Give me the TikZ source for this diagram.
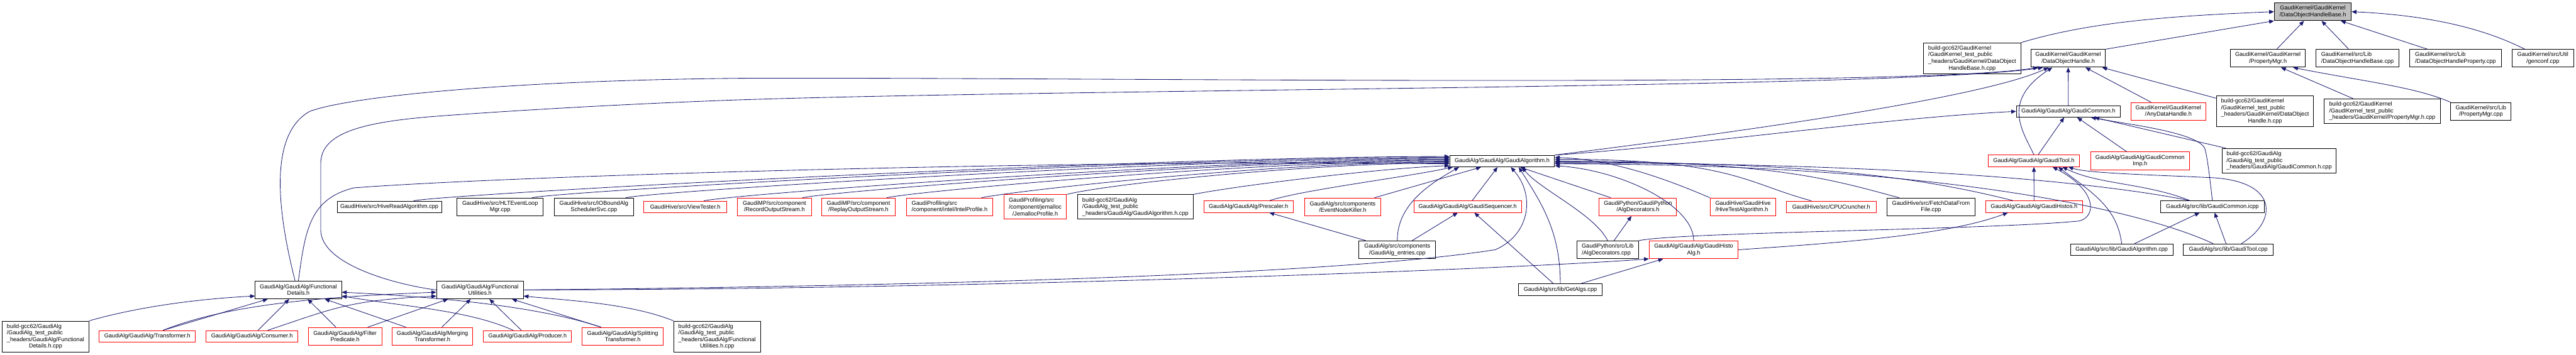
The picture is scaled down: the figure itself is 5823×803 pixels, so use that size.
\documentclass[tikz,border=0pt]{standalone}
\usepackage{fontspec}
\usepackage{calc}
\setmainfont{Liberation Sans}
\usetikzlibrary{arrows.meta}
\definecolor{edgeblue}{HTML}{191970}
\definecolor{truncred}{HTML}{FF0000}
\definecolor{rootgray}{HTML}{BFBFBF}

\begin{document}
\begin{tikzpicture}[
  x=0.5pt, y=-0.5pt,
  every node/.style={draw, fill=white, align=center, inner sep=0pt, line width=0.7pt, font=\fontsize{6.5}{7.5}\selectfont},
  one/.style={minimum height=13pt},
  two/.style={minimum height=20pt},
  three/.style={minimum height=27.5pt},
  four/.style={minimum height=35pt},
  flush/.style={align=left},
  trunc/.style={draw=truncred},
  root/.style={fill=rootgray},
  arrow/.style={draw=edgeblue, line width=0.6pt, -{Triangle[length=5.5pt,width=4.5pt]}}
]
\useasboundingbox (0,0) rectangle (5823,803);

\node[two, root, minimum width=87pt] (base) at (5228,26.5) {GaudiKernel/GaudiKernel\\/DataObjectHandleBase.h};

\node[four, flush, minimum width=110pt] (bbase) at (4458,132) {build-gcc62/GaudiKernel\\/GaudiKernel\_test\_public\\\_headers/GaudiKernel/DataObject\\\makebox[\widthof{\_headers/GaudiKernel/DataObject}]{HandleBase.h.cpp}};
\node[two, minimum width=84pt] (handle) at (4675,132) {GaudiKernel/GaudiKernel\\/DataObjectHandle.h};
\node[two, minimum width=84.5pt] (propmgr) at (5126.5,132) {GaudiKernel/GaudiKernel\\/PropertyMgr.h};
\node[two, flush, minimum width=94pt] (basecpp) at (5329,132) {GaudiKernel/src/Lib\\/DataObjectHandleBase.cpp};
\node[two, flush, minimum width=103.5pt] (propcpp) at (5550.5,132) {GaudiKernel/src/Lib\\/DataObjectHandleProperty.cpp};
\node[two, minimum width=70pt] (genconf) at (5748,132) {GaudiKernel/src/Util\\/genconf.cpp};

\node[one, minimum width=117.5pt] (common) at (4675.5,252) {GaudiAlg/GaudiAlg/GaudiCommon.h};
\node[two, trunc, minimum width=84.5pt] (anydata) at (4901.5,252) {GaudiKernel/GaudiKernel\\/AnyDataHandle.h};
\node[four, flush, minimum width=110pt] (bhandle) at (5120,252) {build-gcc62/GaudiKernel\\/GaudiKernel\_test\_public\\\_headers/GaudiKernel/DataObject\\\makebox[\widthof{\_headers/GaudiKernel/DataObject}]{Handle.h.cpp}};
\node[three, flush, minimum width=131pt] (bpropmgr) at (5385,251.5) {build-gcc62/GaudiKernel\\/GaudiKernel\_test\_public\\\_headers/GaudiKernel/PropertyMgr.h.cpp};
\node[two, minimum width=68pt] (pmgrcpp) at (5608,252) {GaudiKernel/src/Lib\\/PropertyMgr.cpp};

\node[one, minimum width=118.5pt] (algo) at (3395.5,364.5) {GaudiAlg/GaudiAlg/GaudiAlgorithm.h};
\node[one, trunc, minimum width=102.5pt] (tool) at (4597.5,364) {GaudiAlg/GaudiAlg/GaudiTool.h};
\node[two, trunc, minimum width=111.5pt] (commonimp) at (4837.5,364) {GaudiAlg/GaudiAlg/GaudiCommon\\Imp.h};
\node[three, flush, minimum width=129pt] (bcommon) at (5152,363.5) {build-gcc62/GaudiAlg\\/GaudiAlg\_test\_public\\\_headers/GaudiAlg/GaudiCommon.h.cpp};

\node[one, minimum width=118pt] (hiveread) at (880,468) {GaudiHive/src/HiveReadAlgorithm.cpp};
\node[two, minimum width=97.5pt] (hltloop) at (1130.5,468) {GaudiHive/src/HLTEventLoop\\Mgr.cpp};
\node[two, minimum width=89.5pt] (iobound) at (1342.5,468) {GaudiHive/src/IOBoundAlg\\SchedulerSvc.cpp};
\node[one, trunc, minimum width=94pt] (viewtester) at (1549,468) {GaudiHive/src/ViewTester.h};
\node[two, trunc, minimum width=83.5pt] (recordout) at (1750.5,468) {GaudiMP/src/component\\/RecordOutputStream.h};
\node[two, trunc, minimum width=83.5pt] (replayout) at (1940.5,468) {GaudiMP/src/component\\/ReplayOutputStream.h};
\node[two, trunc, flush, minimum width=97.5pt] (intelprof) at (2146.5,468) {GaudiProfiling/src\\/component/intel/IntelProfile.h};
\node[three, trunc, flush, minimum width=71pt] (jemalloc) at (2340,468) {GaudiProfiling/src\\/component/jemalloc\\\makebox[\widthof{/component/jemalloc}]{/JemallocProfile.h}};
\node[three, flush, minimum width=130.5pt] (balgo) at (2566.5,468) {build-gcc62/GaudiAlg\\/GaudiAlg\_test\_public\\\_headers/GaudiAlg/GaudiAlgorithm.h.cpp};
\node[one, trunc, minimum width=101pt] (prescaler) at (2822,467.5) {GaudiAlg/GaudiAlg/Prescaler.h};
\node[two, trunc, minimum width=86pt] (nodekiller) at (3035,468) {GaudiAlg/src/components\\/EventNodeKiller.h};
\node[one, trunc, minimum width=121.5pt] (sequencer) at (3317.5,467.5) {GaudiAlg/GaudiAlg/GaudiSequencer.h};
\node[two, trunc, minimum width=87.5pt] (decoh) at (3702.5,468) {GaudiPython/GaudiPython\\/AlgDecorators.h};
\node[two, trunc, flush, minimum width=74pt] (hivetest) at (3940,468) {GaudiHive/GaudiHive\\/HiveTestAlgorithm.h};
\node[one, trunc, minimum width=101.5pt] (cruncher) at (4139.5,468) {GaudiHive/src/CPUCruncher.h};
\node[two, minimum width=100pt] (fetchdata) at (4365,468) {GaudiHive/src/FetchDataFrom\\File.cpp};
\node[one, trunc, minimum width=109pt] (histos) at (4598,467.5) {GaudiAlg/GaudiAlg/GaudiHistos.h};
\node[one, minimum width=117pt] (commonicpp) at (5001,467.5) {GaudiAlg/src/lib/GaudiCommon.icpp};

\node[two, minimum width=86.5pt] (entries) at (3158.5,565) {GaudiAlg/src/components\\/GaudiAlg\_entries.cpp};
\node[two, flush, minimum width=70pt] (decocpp) at (3634,565) {GaudiPython/src/Lib\\/AlgDecorators.cpp};
\node[two, trunc, minimum width=100.5pt] (histoalg) at (3828.5,565) {GaudiAlg/GaudiAlg/GaudiHisto\\Alg.h};
\node[one, minimum width=116pt] (algocpp) at (4796,565) {GaudiAlg/src/lib/GaudiAlgorithm.cpp};
\node[one, minimum width=102pt] (toolcpp) at (5037,565) {GaudiAlg/src/lib/GaudiTool.cpp};

\node[two, minimum width=97.5pt] (fdetails) at (674.5,656) {GaudiAlg/GaudiAlg/Functional\\Details.h};
\node[two, minimum width=98pt] (futils) at (1085,656) {GaudiAlg/GaudiAlg/Functional\\Utilities.h};
\node[one, minimum width=95pt] (getalgs) at (3527,655.5) {GaudiAlg/src/lib/GetAlgs.cpp};

\node[four, flush, minimum width=98pt] (bfdetails) at (103,761.5) {build-gcc62/GaudiAlg\\/GaudiAlg\_test\_public\\\_headers/GaudiAlg/Functional\\\makebox[\widthof{\_headers/GaudiAlg/Functional}]{Details.h.cpp}};
\node[one, trunc, minimum width=109pt] (transformer) at (333,761) {GaudiAlg/GaudiAlg/Transformer.h};
\node[one, trunc, minimum width=103.5pt] (consumer) at (569.5,761) {GaudiAlg/GaudiAlg/Consumer.h};
\node[two, trunc, minimum width=83pt] (filter) at (780,761) {GaudiAlg/GaudiAlg/Filter\\Predicate.h};
\node[two, trunc, minimum width=91.5pt] (merging) at (977.5,761) {GaudiAlg/GaudiAlg/Merging\\Transformer.h};
\node[one, trunc, minimum width=99.5pt] (producer) at (1192.5,761) {GaudiAlg/GaudiAlg/Producer.h};
\node[two, trunc, minimum width=91.5pt] (splitting) at (1407.5,761) {GaudiAlg/GaudiAlg/Splitting\\Transformer.h};
\node[four, flush, minimum width=98pt] (bfutils) at (1621,761.5) {build-gcc62/GaudiAlg\\/GaudiAlg\_test\_public\\\_headers/GaudiAlg/Functional\\\makebox[\widthof{\_headers/GaudiAlg/Functional}]{Utilities.h.cpp}};

\draw[arrow] (bbase.north east) .. controls +(150,-45) and +(-250,10) .. (base.west);
\draw[arrow] (handle.north east) -- (base.south west);
\draw[arrow] (propmgr) -- (base);
\draw[arrow] (basecpp) -- (base);
\draw[arrow] (propcpp) -- (base);
\draw[arrow] (genconf.153) .. controls +(-60,-30) and +(220,10) .. (base.east);

\draw[arrow] (fdetails.110) .. controls (620,450) and (615,300) .. (700,252) .. controls (800,215) and (1200,180) .. (1700,177) .. controls (2500,175) and (4300,200) .. (handle.-163);
\draw[arrow] (futils.west) .. controls (900,645) and (725,600) .. (725,520) -- (725,370) .. controls (725,300) and (820,275) .. (1000,262) .. controls (1300,240) and (1600,228) .. (1700,225) .. controls (2500,200) and (4300,200) .. (handle.-160);
\draw[arrow] (algo.north east) .. controls +(400,-50) and +(-150,70) .. (handle.-155);
\draw[arrow] (tool.north) .. controls (4575,300) and (4520,230) .. (handle.-150);
\draw[arrow] (common) -- (handle);
\draw[arrow] (anydata) -- (handle);
\draw[arrow] (bhandle) -- (handle);

\draw[arrow] (bpropmgr) -- (propmgr.-35);
\draw[arrow] (pmgrcpp.north west) .. controls +(-80,-35) and +(150,30) .. (propmgr.-20);

\draw[arrow] (algo.north east) .. controls +(300,-20) and +(-300,15) .. (common.west);
\draw[arrow] (tool) -- (common);
\draw[arrow] (commonimp) -- (common);
\draw[arrow] (bcommon) -- (common);
\draw[arrow] (commonicpp.north) .. controls (4995,400) and (4990,360) .. (4985,340) .. controls (4980,300) and (4800,280) .. (common.-15);

\draw[arrow] (hiveread.14) .. controls +(70,-15) and +(-700,0) .. (algo.175);
\draw[arrow] (hltloop.16) .. controls +(70,-15) and +(-650,0) .. (algo.176);
\draw[arrow] (iobound.16) .. controls +(70,-15) and +(-600,0) .. (algo.177);
\draw[arrow] (viewtester.18) .. controls +(70,-15) and +(-550,0) .. (algo.178);
\draw[arrow] (recordout.18) .. controls +(70,-15) and +(-500,0) .. (algo.179);
\draw[arrow] (replayout.18) .. controls +(70,-15) and +(-450,0) .. (algo.180);
\draw[arrow] (intelprof.16) .. controls +(70,-15) and +(-400,0) .. (algo.181);
\draw[arrow] (jemalloc.north east) .. controls +(100,-25) and +(-300,0) .. (algo.182);
\draw[arrow] (balgo.north east) .. controls +(100,-20) and +(-150,5) .. (algo.185);
\draw[arrow] (fdetails.north) .. controls (690,520) and (700,450) .. (800,425) .. controls (1200,395) and (2500,360) .. (algo.183);

\draw[arrow] (prescaler.16) .. controls +(80,-25) and +(-120,25) .. (algo.-173);
\draw[arrow] (nodekiller) -- (algo);
\draw[arrow] (entries.north) .. controls +(0,-80) and +(-70,40) .. (algo.-172);
\draw[arrow] (sequencer) -- (algo);
\draw[arrow] (getalgs.north) .. controls +(0,-120) and +(50,80) .. (algo.-20);
\draw[arrow] (decocpp.north) .. controls +(-30,-60) and +(40,50) .. (algo.-17);
\draw[arrow] (decoh) -- (algo);
\draw[arrow] (futils.east) .. controls (2000,648) and (3000,625) .. (3380,565) .. controls (3460,530) and (3470,440) .. (algo.-35);
\draw[arrow] (futils.east) .. controls (2200,655) and (3400,610) .. (histoalg.south west);

\draw[arrow] (hivetest.north west) .. controls +(-60,-25) and +(150,5) .. (algo.4);
\draw[arrow] (cruncher.163) .. controls +(-150,-40) and +(400,0) .. (algo.2);
\draw[arrow] (fetchdata.164) .. controls +(-150,-40) and +(500,0) .. (algo.0);
\draw[arrow] (histos.164) .. controls +(-200,-50) and +(600,0) .. (algo.-1);
\draw[arrow] (commonicpp.165) .. controls +(-200,-40) and +(800,0) .. (algo.-2);
\draw[arrow] (toolcpp.158) .. controls +(-150,-70) and +(900,0) .. (algo.-3);
\draw[arrow] (histoalg.north) .. controls +(0,-80) and +(150,10) .. (algo.-5);

\draw[arrow] (histos) -- (tool);
\draw[arrow] (algocpp.north) .. controls +(-10,-80) and +(80,60) .. (tool.-14);
\draw[arrow] (decocpp.north east) .. controls (3800,525) and (4500,520) .. (4700,500) .. controls (4740,490) and (4740,430) .. (tool.-18);
\draw[arrow] (commonicpp.165) .. controls +(-100,-40) and +(80,40) .. (tool.-12);
\draw[arrow] (toolcpp.25) .. controls (5150,500) and (5150,410) .. (5000,402) .. controls (4850,395) and (4720,392) .. (tool.-10);
\draw[arrow] (algocpp) -- (commonicpp);
\draw[arrow] (toolcpp) -- (commonicpp);

\draw[arrow] (histoalg.east) .. controls +(300,-20) and +(-120,45) .. (histos.-167);
\draw[arrow] (getalgs) -- (histoalg);
\draw[arrow] (getalgs) -- (sequencer);
\draw[arrow] (entries) -- (prescaler);
\draw[arrow] (entries) -- (sequencer);
\draw[arrow] (decocpp) -- (decoh);

\draw[arrow] (bfdetails.north east) .. controls +(130,-37) and +(-100,5) .. (fdetails.-172);
\draw[arrow] (transformer.21) -- (fdetails);
\draw[arrow] (consumer) -- (fdetails);
\draw[arrow] (filter) -- (fdetails);
\draw[arrow] (merging) -- (fdetails);
\draw[arrow] (producer.157) .. controls +(-100,-45) and +(150,25) .. (fdetails.-8);
\draw[arrow] (splitting.157) .. controls +(-150,-50) and +(200,10) .. (fdetails.-3);

\draw[arrow] (transformer.21) .. controls +(150,-60) and +(-250,10) .. (futils.-177);
\draw[arrow] (consumer.21) .. controls +(150,-50) and +(-200,10) .. (futils.-172);
\draw[arrow] (filter.22) -- (futils.-164);
\draw[arrow] (merging) -- (futils);
\draw[arrow] (producer) -- (futils);
\draw[arrow] (splitting.157) -- (futils.-16);
\draw[arrow] (bfutils.north west) .. controls +(-100,-40) and +(100,10) .. (futils.-8);
\end{tikzpicture}
\end{document}
